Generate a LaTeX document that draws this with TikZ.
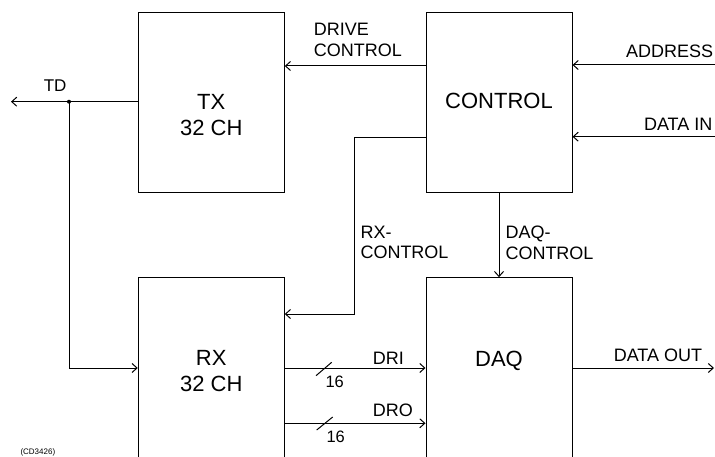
\documentclass[tikz,border=0pt]{standalone}
\usepackage{fontspec}
\setmainfont{Liberation Sans}
\usetikzlibrary{arrows.meta,calc}
\begin{document}
\begin{tikzpicture}[x=1pt,y=-1pt,
  line width=1pt,
  arr/.style={-{Straight Barb[length=5pt,width=9pt,line width=1pt]}},
  blk/.style={draw,line width=1pt,minimum width=146pt,inner sep=0pt},
  btxt/.style={font=\fontsize{22}{25.5}\selectfont,inner sep=0pt,align=center},
  lbl/.style={font=\fontsize{18}{20.7}\selectfont,inner sep=0pt,align=left},
  num/.style={font=\fontsize{16.5}{18}\selectfont,inner sep=0pt}]
\useasboundingbox (0,0) rectangle (715,457);
\clip (0,0) rectangle (715,457);
% blocks
\node[blk,minimum height=180pt] (tx) at (211.25,102.7) {};
\node[blk,minimum height=180pt] (ctrl) at (499,102.7) {};
\node[blk,minimum height=202pt] (rx) at (211.25,378.7) {};
\node[blk,minimum height=202pt] (daq) at (499,378.7) {};
% block texts
\node[btxt,anchor=north] (txt1) at (211.25,94.3) {TX\\32 CH};
\node[btxt,anchor=base] (txt2) at (499,108.3) {CONTROL};
\node[btxt,anchor=north] (txt3) at (211.25,350.3) {RX\\32 CH};
\node[btxt,anchor=base] (txt4) at (499,366.7) {DAQ};
% external ends
\coordinate (tdend) at (11,101.7);
\coordinate (addr) at (716,65);
\coordinate (din) at (716,136.7);
\coordinate (dout) at (714,368);
\coordinate (jn) at (69,101.7);
% connectors
\draw[arr] (tx.west |- jn) -- (tdend);
\fill (jn) circle (2pt);
\draw[arr] (jn) |- (rx.west |- 0,368);
\draw[arr] (ctrl.west |- 0,66) -- (tx.east |- 0,66);
\draw[arr] (addr) -- (ctrl.east |- addr);
\draw[arr] (din) -- (ctrl.east |- din);
\draw[arr] (ctrl.west |- 0,137.3) -| (354,314) -- (rx.east |- 0,314);
\draw[arr] (ctrl.south) -- (daq.north);
\draw[arr] (rx.east |- 0,368) -- (daq.west |- 0,368);
\draw[arr] (rx.east |- 0,423.3) -- (daq.west |- 0,423.3);
\draw[arr] (daq.east |- dout) -- (dout);
% bus slashes
\draw (316,375.7) -- (331.7,362.3);
\draw (316.7,430) -- (332.7,417);
% labels
\node[lbl,anchor=north west] (l1) at (313.3,22.7) {DRIVE\\CONTROL};
\node[lbl,anchor=base west] (l2) at (625.7,57.3) {ADDRESS};
\node[lbl,anchor=base west] (l3) at (643.5,130.7) {DATA IN};
\node[lbl,anchor=north west] (l4) at (360,225.3) {RX-\\CONTROL};
\node[lbl,anchor=north west] (l5) at (505,225.3) {DAQ-\\CONTROL};
\node[lbl,anchor=base west] (l6) at (372.3,364) {DRI};
\node[lbl,anchor=base west] (l7) at (372.3,416.7) {DRO};
\node[lbl,anchor=base west] (l8) at (613.3,361.7) {DATA OUT};
\node[num,anchor=base west] (n1) at (325,387.3) {16};
\node[num,anchor=base west] (n2) at (326,442.7) {16};
\node[font=\fontsize{17}{18}\selectfont,inner sep=0pt,anchor=base west] (td) at (43.3,91.7) {TD};
\node[font=\fontsize{8}{9}\selectfont,inner sep=0pt,anchor=west] (cd) at (20,452) {(CD3426)};
\end{tikzpicture}
\end{document}
